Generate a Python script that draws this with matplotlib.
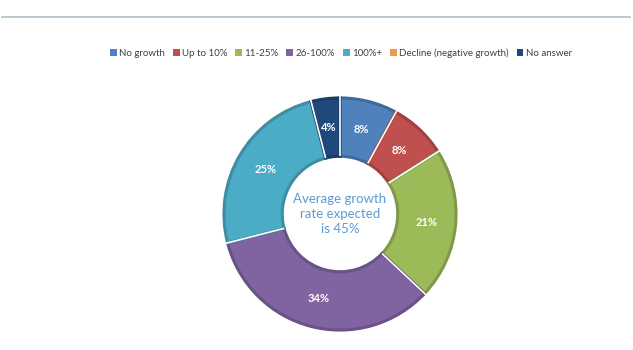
import matplotlib
matplotlib.use("Agg")
import matplotlib.pyplot as plt
from matplotlib.patches import Patch
import matplotlib.colors as mcolors
import numpy as np

plt.rcParams['font.family'] = ['Lato', 'DejaVu Sans']

categories = ['No growth', 'Up to 10%', '11-25%', '26-100%', '100%+',
              'Decline (negative growth)', 'No answer']
shares = [8, 8, 21, 34, 25, 0, 4]
colors = ['#4F81BD', '#C0504D', '#9BBB59', '#8064A2', '#4BACC6', '#F79646', '#1F497D']
center_text = 'Average growth\nrate expected\nis 45%'


def darker(c, f=0.82):
    r, g, b = mcolors.to_rgb(c)
    return (r * f, g * f, b * f)


fig = plt.figure(figsize=(6.33, 3.5), dpi=100)

# faint header rule at the top
fig.add_artist(plt.Line2D([2 / 633, 630 / 633], [1 - 16.5 / 350, 1 - 16.5 / 350],
                          color='#AEBFCB', lw=1.2))

ax = fig.add_axes([(340 - 125) / 633, (350 - 214 - 125) / 350, 250 / 633, 250 / 350])

# draw only non-empty slices, legend keeps all categories
vals = [v for v in shares if v > 0]
cols = [c for v, c in zip(shares, colors) if v > 0]
R = 0.975
wedges, _ = ax.pie(vals, colors=cols, startangle=90, counterclock=False, radius=R,
                   wedgeprops=dict(width=0.49, linewidth=2.2))
for w, c in zip(wedges, cols):
    w.set_edgecolor(darker(c))

# white gaps between slices
total = sum(vals)
ang = 90.0
for v in vals:
    a = np.deg2rad(ang)
    ax.plot([(R - 0.49) * np.cos(a), (R + 0.02) * np.cos(a)],
            [(R - 0.49) * np.sin(a), (R + 0.02) * np.sin(a)],
            color='white', lw=1.2, solid_capstyle='butt')
    ang -= 360.0 * v / total

# percentage labels
ang = 90.0
for v in vals:
    mid = np.deg2rad(ang - 180.0 * v / total)
    ax.text(0.73 * np.cos(mid), 0.73 * np.sin(mid), f'{v}%', color='white',
            fontsize=8, fontweight='bold', ha='center', va='center')
    ang -= 360.0 * v / total

ax.text(0, 0.0, center_text, ha='center', va='center', fontsize=9.5,
        color='#5E9AD3', linespacing=1.3)

ax.set_xlim(-1.05, 1.05)
ax.set_ylim(-1.05, 1.05)
ax.set_aspect('equal')
ax.axis('off')

handles = [Patch(facecolor=c, edgecolor='none') for c in colors]
fig.legend(handles, categories, loc='center', bbox_to_anchor=(341 / 633, 1 - 53 / 350),
           ncol=7, frameon=False, fontsize=7, handlelength=0.7, handleheight=0.7,
           handletextpad=0.25, columnspacing=0.8, labelcolor='#404040')

fig.savefig('out.png', dpi=100, facecolor='white')
